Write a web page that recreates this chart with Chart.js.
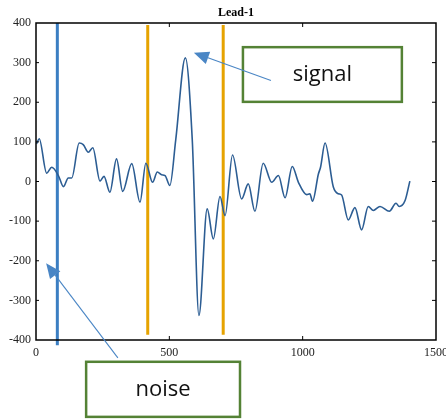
<!DOCTYPE html>
<html>
<head>
<meta charset="utf-8">
<script src="https://cdn.jsdelivr.net/npm/chart.js@4"></script>
<style>
  html, body { margin: 0; padding: 0; background: #fff; }
  #wrap { width: 446px; height: 419px; }
</style>
</head>
<body>
<div id="wrap"><canvas id="leadChart" width="446" height="419"></canvas></div>
<script>
// ── DATA ──
const titleText = 'Lead-1';
const signalX = [2, 12, 40, 59, 84, 103, 121, 134, 162, 177, 196, 213, 240, 255, 277, 302, 325, 359, 390, 412,
  437, 455, 471, 484, 502, 524, 560, 586, 611, 642, 665, 690, 709, 737, 771, 796, 821, 852, 884, 909,
  934, 961, 984, 1015, 1027, 1037, 1059, 1067, 1084, 1115, 1134, 1146, 1171, 1196, 1221, 1246, 1265,
  1290, 1325, 1350, 1362, 1384, 1402];
const signalY = [95, 108, 21, 36, 15, -13, 9, 9, 97, 93, 74, 85, 1, 13, -27, 57, -25, 45, -52, 46,
  -2, 24, 17, 15, -10, 105, 312, 105, -338, -69, -145, -38, -86, 67, -44, -6, -75, 46, -2, 15,
  -41, 38, -2, -33, -31, -50, 19, 36, 97, -14, -31, -34, -97, -66, -122, -63, -73,
  -63, -75, -55, -63, -48, 1];

const noiseMarkX = [80];
const noiseMarkY = [400, -413];
const windowMarkX = [419, 702];
const windowMarkY = [395, -387];

const xTicks = [0, 500, 1000, 1500];
const yTicks = [-400, -300, -200, -100, 0, 100, 200, 300, 400];

// annotation boxes/arrows in data units
const notes = [
  { text: 'signal', box: [776, 339, 1372, 201], from: [881, 255], tip: [592, 325] },
  { text: 'noise',  box: [188, -455, 765, -594], from: [307, -445], tip: [38, -206] }
];

// ── COLOURS ──
const C = {
  trace: '#2c5d93',
  noise: '#3b7ec2',
  window: '#e6a300',
  boxEdge: '#548235',
  arrow: '#4a86c5',
  axis: '#000'
};

// ── PLUGIN: frame, title, annotations ──
const framePlugin = {
  id: 'frame',
  afterDraw(chart) {
    const { ctx, chartArea: a, scales: { x, y } } = chart;
    ctx.save();
    ctx.strokeStyle = C.axis;
    ctx.lineWidth = 1.5;
    ctx.strokeRect(a.left, a.top, a.right - a.left, a.bottom - a.top);

    ctx.lineWidth = 1;
    ctx.beginPath();
    xTicks.slice(1, -1).forEach(v => {
      const px = x.getPixelForValue(v);
      ctx.moveTo(px, a.bottom); ctx.lineTo(px, a.bottom - 4);
      ctx.moveTo(px, a.top); ctx.lineTo(px, a.top + 4);
    });
    yTicks.slice(1, -1).forEach(v => {
      const py = y.getPixelForValue(v);
      ctx.moveTo(a.right, py); ctx.lineTo(a.right - 4, py);
      ctx.moveTo(a.left, py); ctx.lineTo(a.left + 3, py);
    });
    ctx.stroke();

    // title
    ctx.fillStyle = '#000';
    ctx.font = 'bold 12px "Liberation Serif"';
    ctx.textAlign = 'center';
    ctx.textBaseline = 'middle';
    ctx.fillText(titleText, (a.left + a.right) / 2, 13);

    // annotations
    notes.forEach(n => {
      const x0 = x.getPixelForValue(n.box[0]), y0 = y.getPixelForValue(n.box[1]);
      const x1 = x.getPixelForValue(n.box[2]), y1 = y.getPixelForValue(n.box[3]);
      ctx.fillStyle = '#fff';
      ctx.fillRect(x0, y0, x1 - x0, y1 - y0);
      ctx.strokeStyle = C.boxEdge;
      ctx.lineWidth = 2.5;
      ctx.strokeRect(x0, y0, x1 - x0, y1 - y0);
      ctx.fillStyle = '#111';
      ctx.font = '22px "Open Sans"';
      ctx.fillText(n.text, (x0 + x1) / 2, (y0 + y1) / 2);

      const fx = x.getPixelForValue(n.from[0]), fy = y.getPixelForValue(n.from[1]);
      const tx = x.getPixelForValue(n.tip[0]), ty = y.getPixelForValue(n.tip[1]);
      const ang = Math.atan2(ty - fy, tx - fx);
      const headLen = 15, headW = 6.5;
      const bx = tx - headLen * Math.cos(ang), by = ty - headLen * Math.sin(ang);
      ctx.strokeStyle = C.arrow;
      ctx.lineWidth = 1.1;
      ctx.beginPath();
      ctx.moveTo(fx, fy); ctx.lineTo(bx, by);
      ctx.stroke();
      ctx.fillStyle = C.arrow;
      ctx.beginPath();
      ctx.moveTo(tx, ty);
      ctx.lineTo(bx + headW * Math.sin(ang), by - headW * Math.cos(ang));
      ctx.lineTo(bx - headW * Math.sin(ang), by + headW * Math.cos(ang));
      ctx.closePath();
      ctx.fill();
    });
    ctx.restore();
  }
};

const vline = (xv, ys, color) => ({
  data: ys.map(yv => ({ x: xv, y: yv })),
  borderColor: color,
  borderWidth: 3,
  pointRadius: 0,
  clip: false,
  order: 2
});

new Chart(document.getElementById('leadChart'), {
  type: 'line',
  data: {
    datasets: [
      {
        data: signalX.map((v, i) => ({ x: v, y: signalY[i] })),
        borderColor: C.trace,
        borderWidth: 1.6,
        pointRadius: 0,
        cubicInterpolationMode: 'monotone',
        order: 1
      },
      vline(noiseMarkX[0], noiseMarkY, C.noise),
      ...windowMarkX.map(v => vline(v, windowMarkY, C.window))
    ]
  },
  options: {
    responsive: false,
    animation: false,
    layout: { padding: { top: 23, right: 10, left: 0, bottom: 0 } },
    plugins: { legend: { display: false }, tooltip: { enabled: false }, title: { display: false } },
    scales: {
      x: {
        type: 'linear', min: 0, max: 1500,
        afterBuildTicks: s => { s.ticks = xTicks.map(v => ({ value: v })); },
        afterFit: s => { s.height = 79; s.paddingLeft = 0; s.paddingRight = 0; },
        grid: { display: false, drawTicks: false, tickLength: 0 },
        border: { display: false },
        ticks: { padding: 6, color: '#222', font: { family: 'Liberation Serif', size: 12 }, maxRotation: 0,
          callback: v => String(v) }
      },
      y: {
        min: -400, max: 400,
        afterBuildTicks: s => { s.ticks = yTicks.map(v => ({ value: v })); },
        afterFit: s => { s.width = 36; s.paddingTop = 0; s.paddingBottom = 0; },
        grid: { display: false, drawTicks: false, tickLength: 0 },
        border: { display: false },
        ticks: { padding: 5, color: '#222', font: { family: 'Liberation Serif', size: 12 },
          callback: v => String(v) }
      }
    }
  },
  plugins: [framePlugin]
});
</script>
</body>
</html>
